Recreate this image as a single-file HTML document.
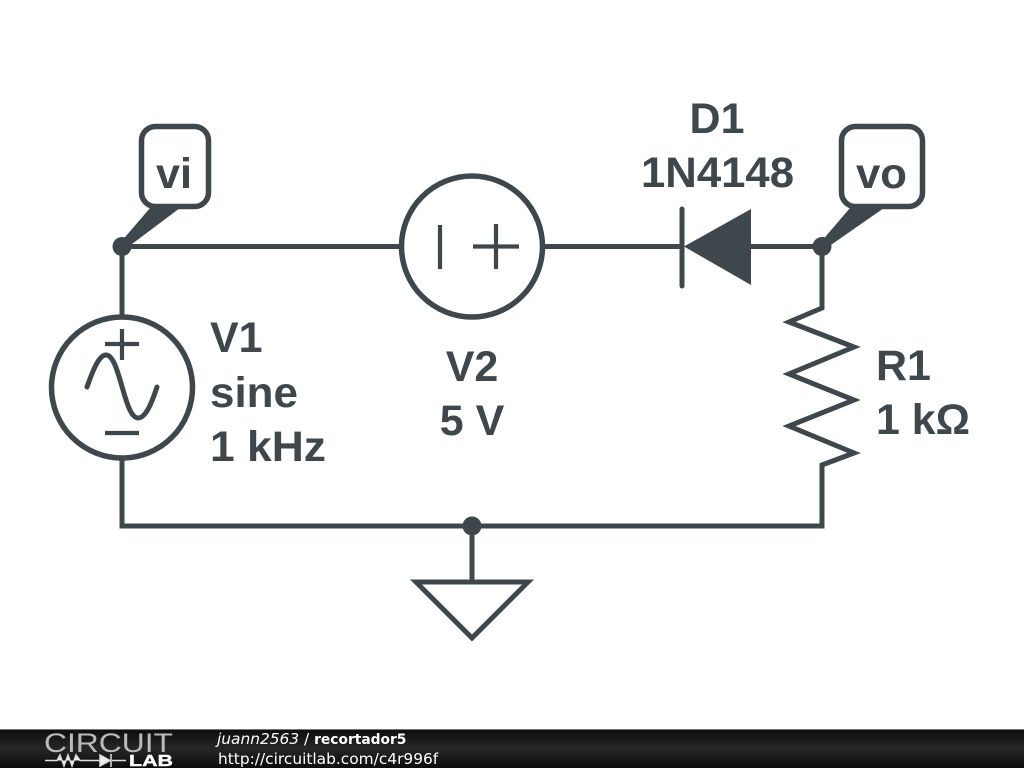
<!DOCTYPE html>
<html><head><meta charset="utf-8"><style>
html,body{margin:0;padding:0;background:#fff;width:1024px;height:768px;overflow:hidden}
svg{display:block}
.t{font-family:"Liberation Sans",sans-serif;font-weight:bold;font-size:43px;fill:#3e474c}
</style></head><body>
<svg width="1024" height="768" viewBox="0 0 1024 768" xmlns="http://www.w3.org/2000/svg">
<defs><linearGradient id="g" x1="0" y1="0" x2="0" y2="1"><stop offset="0" stop-color="#0c0c0c"/><stop offset="0.5" stop-color="#262626"/><stop offset="1" stop-color="#0c0c0c"/></linearGradient></defs>
<rect width="1024" height="768" fill="#fff"/>
<g fill="none" stroke="#3e474c" stroke-width="5">
<path d="M122 246.500H401M543 246.500H682M751 246.500H822V308L789 322L854 347L789 374L854 400L789 426L854 453L822 465V526H122V458M122 317V246.500M472 526V582"/>
<circle cx="472" cy="246.500" r="70.500" stroke-width="5.500"/>
<circle cx="122" cy="387.500" r="70.500" stroke-width="5.500"/>
<path d="M416 582H528L472 638Z" stroke-linejoin="miter"/>
<rect x="141.500" y="126.500" width="67" height="80" rx="14" stroke-width="5.500"/>
<rect x="841.500" y="126.500" width="81" height="80" rx="14" stroke-width="5.500"/>
<path d="M682 209V286" stroke-linecap="round"/>
<path d="M440 225V269M473 246.500H519M496 224V269M105 344H139M122 329V360M105 433H139" stroke-width="4.200"/>
<path d="M87 387C93 370 99 355 106 355C120 355 124 418 138 418C146 418 152 402 157 387" stroke-linecap="round"/>
</g>
<g fill="#3e474c">
<path d="M684 246.500L751 209V285Z"/>
<circle cx="122" cy="246.500" r="9.500"/>
<circle cx="822" cy="246.500" r="9.500"/>
<circle cx="472" cy="526" r="9.500"/>
<path d="M120 243L150 208H180L128 247Z"/>
<path d="M820 243L850 208H884L828 247Z"/>
</g>
<text class="t" x="156" y="188" textLength="36" lengthAdjust="spacingAndGlyphs">vi</text>
<text class="t" x="856" y="188" textLength="51" lengthAdjust="spacingAndGlyphs">vo</text>
<text class="t" x="717" y="133" text-anchor="middle">D1</text>
<text class="t" x="641" y="187" textLength="153" lengthAdjust="spacingAndGlyphs">1N4148</text>
<text class="t" x="210" y="352">V1</text>
<text class="t" x="210" y="407" textLength="88" lengthAdjust="spacingAndGlyphs">sine</text>
<text class="t" x="210" y="461" textLength="116" lengthAdjust="spacingAndGlyphs">1 kHz</text>
<text class="t" x="472" y="381" text-anchor="middle">V2</text>
<text class="t" x="472" y="435" text-anchor="middle">5 V</text>
<text class="t" x="876" y="380">R1</text>
<text class="t" x="876" y="434" textLength="94" lengthAdjust="spacingAndGlyphs">1 kΩ</text>
<rect x="0" y="729" width="1024" height="39" fill="url(#g)"/>
<rect x="0" y="729" width="1024" height="1" fill="#777"/>
<text x="44" y="752" font-family="Liberation Sans,sans-serif" font-size="27" fill="#bbb" textLength="129" lengthAdjust="spacingAndGlyphs">CIRCUIT</text>
<path d="M45 760.500H57L60 755L64 766L68 755L72 766L76 755L80 760.500H100M126 760.500H112M100 755V766L110 760.500Z M111 754V767" stroke="#ddd" stroke-width="1.500" fill="#eee"/>
<text x="129" y="766" font-family="Liberation Sans,sans-serif" font-weight="bold" font-size="16" fill="#fff" stroke="#fff" stroke-width="0.400" textLength="44" lengthAdjust="spacingAndGlyphs">LAB</text>
<text x="217" y="744" font-family="DejaVu Sans,sans-serif" font-size="15.400" fill="#fff"><tspan font-style="italic">juann2563</tspan> / <tspan font-weight="bold" font-size="13.800">recortador5</tspan></text>
<text x="218" y="764" font-family="DejaVu Sans,sans-serif" font-size="15.400" fill="#fff">http://circuitlab.com/c4r996f</text>
</svg>
</body></html>
